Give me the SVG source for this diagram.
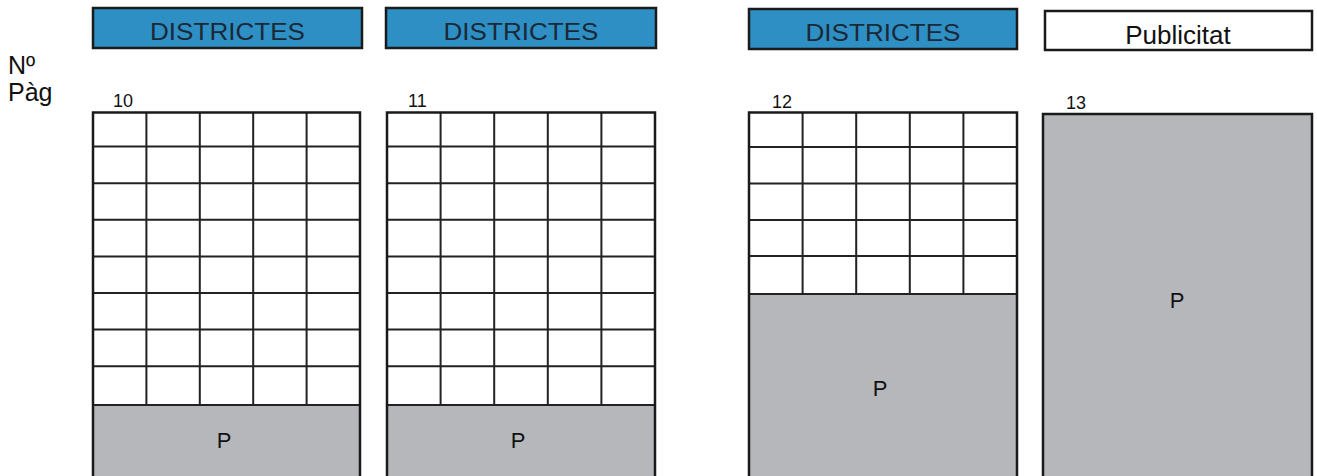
<svg xmlns="http://www.w3.org/2000/svg" width="1317" height="476" viewBox="0 0 1317 476">
<style>
.hdr{fill:#2e8fc4;stroke:#1a1a1a;stroke-width:2.5}
.hdrw{fill:#ffffff;stroke:#1a1a1a;stroke-width:2.5}
.ht{font-family:"Liberation Sans",Arial,sans-serif;font-size:24px;fill:#1b2836;text-anchor:middle}
.pt{font-family:"Liberation Sans",Arial,sans-serif;font-size:26px;fill:#111;text-anchor:middle}
.lbl{font-family:"Liberation Sans",Arial,sans-serif;font-size:25px;fill:#111}
.num{font-family:"Liberation Sans",Arial,sans-serif;font-size:18px;fill:#111}
.pl{font-family:"Liberation Sans",Arial,sans-serif;font-size:22px;fill:#111;text-anchor:middle}
.gray{fill:#b5b7bb}
.frame{fill:none;stroke:#1a1a1a;stroke-width:2.5}
.grid{stroke:#222;stroke-width:2;fill:none}
</style>
<rect width="1317" height="476" fill="#ffffff"/>
<g id="label-npag">
<text class="lbl" x="8" y="74">Nº</text>
<text class="lbl" x="8" y="101">Pàg</text>
</g>
<g id="page-10">
<rect class="hdr" x="93" y="8" width="269" height="40"/>
<text class="ht" x="227.5" y="40" textLength="155" lengthAdjust="spacingAndGlyphs">DISTRICTES</text>
<text class="num" x="113" y="107">10</text>
<rect class="gray" x="93" y="405" width="267" height="75"/>
<path class="grid" d="M93 146.6H360M93 183.2H360M93 219.8H360M93 256.4H360M93 293H360M93 329.6H360M93 366.2H360M93 405H360M146.4 112.5V405M199.8 112.5V405M253.2 112.5V405M306.6 112.5V405"/>
<path class="frame" d="M93 480V112.5H360V480"/>
<text class="pl" x="224" y="448">P</text>
</g>
<g id="page-11">
<rect class="hdr" x="386" y="8" width="270" height="40"/>
<text class="ht" x="521" y="40" textLength="155" lengthAdjust="spacingAndGlyphs">DISTRICTES</text>
<text class="num" x="408" y="107">11</text>
<rect class="gray" x="387" y="405" width="268" height="75"/>
<path class="grid" d="M387 146.6H655M387 183.2H655M387 219.8H655M387 256.4H655M387 293H655M387 329.6H655M387 366.2H655M387 405H655M440.6 112.5V405M494.2 112.5V405M547.8 112.5V405M601.4 112.5V405"/>
<path class="frame" d="M387 480V112.5H655V480"/>
<text class="pl" x="518" y="448">P</text>
</g>
<g id="page-12">
<rect class="hdr" x="749" y="9" width="268" height="40"/>
<text class="ht" x="883" y="41" textLength="155" lengthAdjust="spacingAndGlyphs">DISTRICTES</text>
<text class="num" x="772" y="108">12</text>
<rect class="gray" x="749" y="294" width="268" height="186"/>
<path class="grid" d="M749 147H1017M749 183.5H1017M749 220H1017M749 256H1017M749 294H1017M802.6 112.5V294M856.2 112.5V294M909.8 112.5V294M963.4 112.5V294"/>
<path class="frame" d="M749 480V112.5H1017V480"/>
<text class="pl" x="880" y="396">P</text>
</g>
<g id="page-13">
<rect class="hdrw" x="1045" y="11" width="267" height="39"/>
<text class="pt" x="1178" y="44">Publicitat</text>
<text class="num" x="1066" y="109">13</text>
<rect class="gray" x="1043" y="114" width="269" height="366"/>
<path class="frame" d="M1043 480V114H1312V480"/>
<text class="pl" x="1177" y="308">P</text>
</g>
</svg>
